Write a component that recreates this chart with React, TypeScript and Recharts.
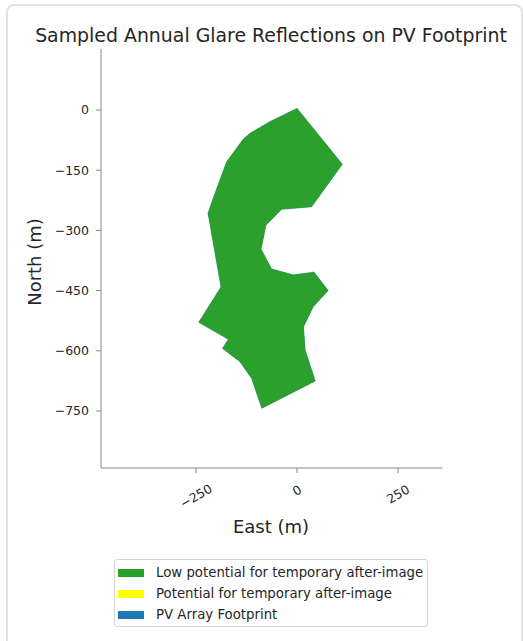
import React from 'react'
import { ScatterChart, Scatter, XAxis, YAxis } from 'recharts'

// polygon outline of the PV footprint (metres)
const eastM = [0, 112, 36, -9, -38, -77, -89, -63, -9, 42, 77, 40, 16, 20, 45, -87, -112, -141, -184, -170, -243, -188, -220, -207, -174, -133, -116, -67]
const northM = [4, -135, -241, -245, -247, -287, -347, -396, -411, -404, -450, -490, -540, -598, -675, -743, -669, -627, -594, -571, -529, -441, -257, -219, -129, -73, -58, -29]

const xTicks = [-250, 0, 250]
const yTicks = [-750, -600, -450, -300, -150, 0]

const legendItems = [
  { label: 'Low potential for temporary after-image', color: '#2ca02c' },
  { label: 'Potential for temporary after-image', color: '#ffff00' },
  { label: 'PV Array Footprint', color: '#1f77b4' },
]

const footprint = eastM.map((x, i) => ({ x, y: northM[i] }))

const FONT = '"DejaVu Sans", sans-serif'
const AXIS = '#888888'
const TEXT = '#262626'

const fmt = (v: number) => (v < 0 ? '\u2212' + Math.abs(v) : String(v))

const polygonLine = (fill: string) => (props: any) => {
  const pts: { x: number; y: number }[] = props.points || []
  if (!pts.length) return <g />
  const d = pts.map((p, i) => (i === 0 ? 'M' : 'L') + p.x + ',' + p.y).join(' ') + ' Z'
  return <path d={d} fill={fill} stroke={fill} strokeWidth={0.4} />
}

const XTick = (props: any) => {
  const { x, y, payload } = props
  const label = fmt(payload.value)
  const w = label.length * 7.6
  const h = w * 0.5 + 12.5 * 0.866
  const cy = y + 8 + h / 2
  return (
    <text
      x={x}
      y={cy}
      textAnchor="middle"
      dominantBaseline="central"
      transform={`rotate(-30 ${x} ${cy})`}
      fontSize={12.5}
      fontFamily={FONT}
      fill={TEXT}
    >
      {label}
    </text>
  )
}

export default function App() {
  return (
    <div style={{ position: 'fixed', left: 0, top: 0, width: 523, height: 641, background: '#fff', overflow: 'hidden', fontFamily: FONT, color: TEXT }}>
      <div style={{ position: 'absolute', left: 6, top: 4, width: 513, height: 680, border: '2px solid #e2e2e2', borderRadius: 8 }} />

      <div style={{ position: 'absolute', left: 271, top: 35, transform: 'translate(-50%, -50%)', fontSize: 18.9, whiteSpace: 'nowrap', lineHeight: 1 }}>
        Sampled Annual Glare Reflections on PV Footprint
      </div>

      <div style={{ position: 'absolute', left: 0, top: 0 }}>
        <ScatterChart width={523} height={641} margin={{ top: 49, right: 80.5, bottom: 113, left: 41 }}>
          <XAxis
            type="number"
            dataKey="x"
            domain={[-485, 360]}
            ticks={xTicks}
            allowDataOverflow
            height={60}
            stroke={AXIS}
            tickSize={5}
            tickMargin={2}
            tick={<XTick />}
          />
          <YAxis
            type="number"
            dataKey="y"
            domain={[-892, 152]}
            ticks={yTicks}
            allowDataOverflow
            width={60}
            stroke={AXIS}
            tickSize={5}
            tickMargin={7}
            tickFormatter={fmt}
            tick={{ fontSize: 12.5, fontFamily: FONT, fill: TEXT }}
          />
          <Scatter
            data={footprint}
            isAnimationActive={false}
            shape={() => <g />}
            line={polygonLine('#1f77b4')}
            lineType="joint"
          />
          <Scatter
            data={footprint}
            isAnimationActive={false}
            shape={() => <g />}
            line={polygonLine('#2ca02c')}
            lineType="joint"
          />
        </ScatterChart>
      </div>

      <div style={{ position: 'absolute', left: 271, top: 527, transform: 'translate(-50%, -50%)', fontSize: 18, whiteSpace: 'nowrap', lineHeight: 1 }}>
        East (m)
      </div>
      <div style={{ position: 'absolute', left: 35, top: 262, transform: 'translate(-50%, -50%) rotate(-90deg)', fontSize: 18, whiteSpace: 'nowrap', lineHeight: 1 }}>
        North (m)
      </div>

      <div style={{ position: 'absolute', left: 114, top: 559, width: 312, height: 66, border: '1px solid #d6d6d6', borderRadius: 3, boxSizing: 'content-box' }}>
        {legendItems.map((item, i) => (
          <div key={item.label} style={{ position: 'absolute', left: 0, top: 2 + i * 21, height: 21, display: 'flex', alignItems: 'center', whiteSpace: 'nowrap' }}>
            <span style={{ display: 'inline-block', marginLeft: 3, width: 26, height: 8, background: item.color }} />
            <span style={{ marginLeft: 12, fontSize: 13.3, lineHeight: 1 }}>{item.label}</span>
          </div>
        ))}
      </div>
    </div>
  )
}
